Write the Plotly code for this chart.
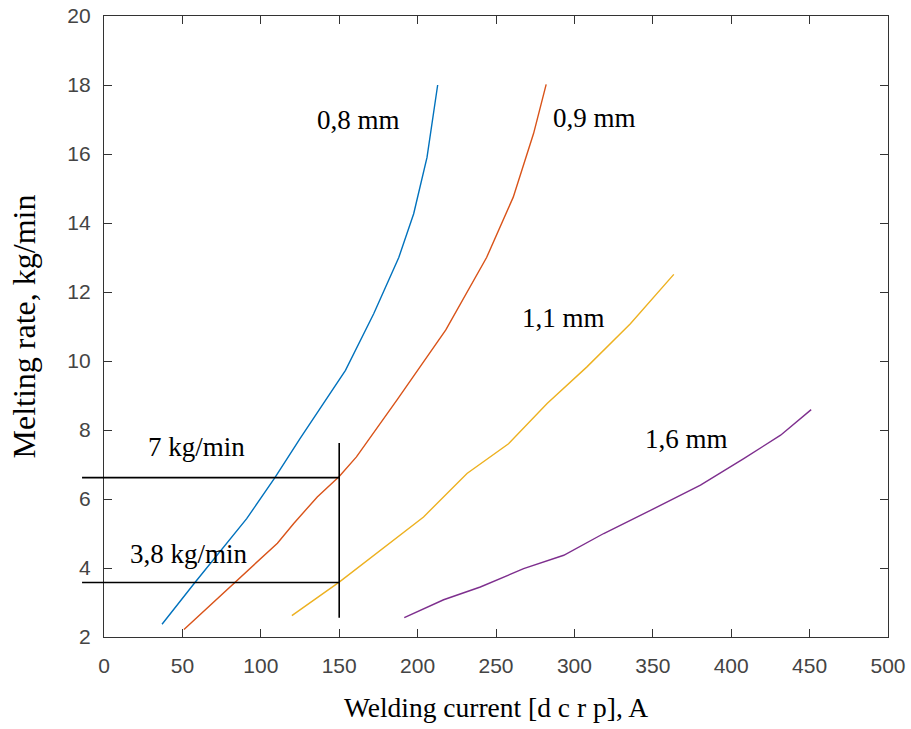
import plotly.graph_objects as go

# ---- data ----
x_08 = [37, 58, 91, 109, 125, 154, 172, 188, 197.5, 206, 212.8]
y_08 = [2.37, 3.58, 5.43, 6.62, 7.75, 9.73, 11.37, 13.0, 14.27, 15.9, 18.0]

x_09 = [51, 83.6, 110.6, 121, 136, 150, 161, 187, 218, 244, 261, 274, 282]
y_09 = [2.22, 3.58, 4.72, 5.29, 6.06, 6.65, 7.22, 8.88, 10.9, 13.0, 14.75, 16.6, 18.02]

x_11 = [119.8, 150, 203.8, 231.5, 258, 282.6, 308, 335.7, 363.4]
y_11 = [2.62, 3.59, 5.48, 6.74, 7.6, 8.77, 9.83, 11.08, 12.51]

x_16 = [191.5, 216.6, 240, 267.6, 293.2, 318.7, 348.5, 380.4, 408, 431.5, 451]
y_16 = [2.56, 3.08, 3.45, 3.98, 4.37, 5.0, 5.67, 6.4, 7.17, 7.85, 8.59]

series_names = ["0,8 mm", "0,9 mm", "1,1 mm", "1,6 mm"]
series_colors = ["#0072BD", "#D95319", "#EDB120", "#7E2F8E"]
label_x = [162, 313, 293, 371.5]
label_y = [17.0, 17.05, 11.25, 7.75]

# reference lines
ref_current = 150
ref_levels = [6.62, 3.58]
ref_line_x_start = -14
ref_vline_y = [2.56, 7.62]
ref_texts = ["7 kg/min", "3,8 kg/min"]
ref_text_x = [59, 54.3]
ref_text_y = [7.5, 4.4]

x_range = [0, 500]
y_range = [2, 20]
x_ticks = list(range(0, 501, 50))
y_ticks = list(range(2, 21, 2))

serif = "Liberation Serif, Times New Roman, serif"
sans = "Liberation Sans, Arial, sans-serif"

fig = go.Figure()
for xs, ys, nm, col in zip([x_08, x_09, x_11, x_16], [y_08, y_09, y_11, y_16],
                           series_names, series_colors):
    fig.add_trace(go.Scatter(x=xs, y=ys, mode="lines", name=nm,
                             line=dict(color=col, width=1.4), showlegend=False))

shapes = []
x0_paper = (ref_line_x_start - x_range[0]) / (x_range[1] - x_range[0])
x1_paper = (ref_current - x_range[0]) / (x_range[1] - x_range[0])
for lv in ref_levels:
    shapes.append(dict(type="line", xref="paper", yref="y", x0=x0_paper, x1=x1_paper,
                       y0=lv, y1=lv, line=dict(color="black", width=1.6)))
shapes.append(dict(type="line", xref="x", yref="y", x0=ref_current, x1=ref_current,
                   y0=ref_vline_y[0], y1=ref_vline_y[1], line=dict(color="black", width=1.6)))

annotations = []
for t, xx, yy in zip(series_names, label_x, label_y):
    annotations.append(dict(x=xx, y=yy, text=t, showarrow=False, xref="x", yref="y",
                            font=dict(family=serif, size=27, color="black")))
for t, xx, yy in zip(ref_texts, ref_text_x, ref_text_y):
    annotations.append(dict(x=xx, y=yy, text=t, showarrow=False, xref="x", yref="y",
                            font=dict(family=serif, size=27, color="black")))

axis_common = dict(showgrid=False, zeroline=False, showline=True, linecolor="#333333",
                   linewidth=1.2, mirror="ticks", ticks="inside", ticklen=8, tickwidth=1,
                   tickcolor="#333333", automargin=False,
                   tickfont=dict(family=sans, size=21, color="#444444"))

fig.update_layout(
    width=911, height=729,
    margin=dict(l=104, r=23, t=16, b=92),
    paper_bgcolor="white", plot_bgcolor="white",
    shapes=shapes, annotations=annotations,
    xaxis=dict(range=x_range, tickvals=x_ticks, ticklabelstandoff=10,
               title=dict(text="Welding current [d c r p], A",
                          font=dict(family=serif, size=27.5, color="black"), standoff=21),
               **axis_common),
    yaxis=dict(range=y_range, tickvals=y_ticks, ticklabelstandoff=8,
               title=dict(text="Melting rate, kg/min",
                          font=dict(family=serif, size=32, color="black"), standoff=22),
               **axis_common),
)

fig.write_html("out.html")
